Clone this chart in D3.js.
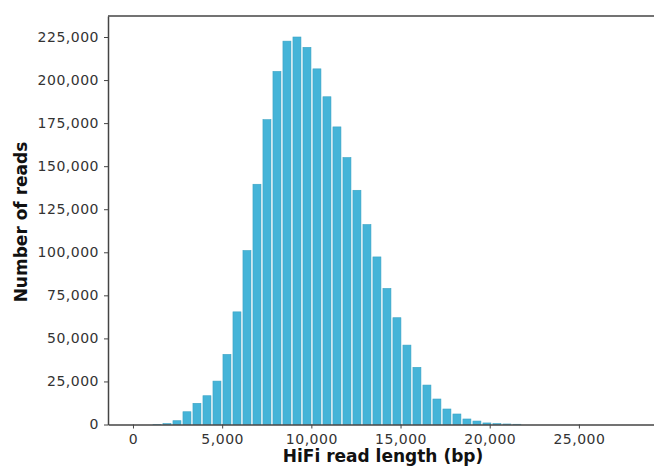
<!DOCTYPE html>
<html>
<head>
<meta charset="utf-8">
<script src="https://cdn.jsdelivr.net/npm/d3@7"></script>
<style>
  body { margin: 0; background: #fff; }
  text { font-family: "DejaVu Sans", sans-serif; }
</style>
</head>
<body>
<div id="chart"></div>
<script>
// HiFi read length histogram

// bin centers (bp)
var binCenters = [1345, 1906, 2466, 3027, 3587, 4148, 4709, 5269, 5830, 6390,
  6951, 7511, 8072, 8632, 9193, 9754, 10314, 10875, 11435, 11996,
  12556, 13117, 13677, 14238, 14798, 15359, 15919, 16480, 17040, 17601,
  18161, 18722, 19283, 19843, 20404, 20964, 21525];
var readCounts = [100, 500, 2200, 7400, 12300, 16700, 25200, 40700, 65400, 101000,
  139500, 177000, 205000, 222600, 225000, 219000, 206500, 190300, 172800, 155000,
  136000, 116100, 97300, 79000, 62000, 46100, 33200, 22900, 14800, 9000,
  6100, 3200, 2000, 900, 500, 300, 150];
var binWidth = 560;

var xTicks = [0, 5000, 10000, 15000, 20000, 25000];
var yTicks = [0, 25000, 50000, 75000, 100000, 125000, 150000, 175000, 200000, 225000];

var W = 654, H = 474;
var plotLeft = 108, plotTop = 16, plotBottom = 424.5, plotRight = 654;

var svg = d3.select("#chart").append("svg")
  .attr("width", W).attr("height", H);

var x = d3.scaleLinear().domain([-1400, 29210]).range([plotLeft, plotRight]);
var y = d3.scaleLinear().domain([0, 237200]).range([plotBottom, plotTop]);

var fmt = d3.format(",");
var barW = x(binWidth) - x(0) - 2;

svg.selectAll("rect.bar")
  .data(binCenters)
  .enter()
  .append("rect")
  .attr("class", "bar")
  .attr("x", function(d) { return x(d) - barW / 2; })
  .attr("y", function(d, i) { return y(readCounts[i]); })
  .attr("width", barW)
  .attr("height", function(d, i) { return plotBottom - y(readCounts[i]); })
  .attr("fill", "#45b4d8")
  .attr("stroke", "#3aa3c4")
  .attr("stroke-width", 0.6);

// axes
var xAxis = svg.append("g")
  .attr("transform", "translate(0," + plotBottom + ")")
  .call(d3.axisBottom(x).tickValues(xTicks).tickFormat(fmt)
    .tickSizeInner(4).tickSizeOuter(0).tickPadding(6));

var yAxis = svg.append("g")
  .attr("transform", "translate(" + plotLeft + ",0)")
  .call(d3.axisLeft(y).tickValues(yTicks).tickFormat(fmt)
    .tickSizeInner(4).tickSizeOuter(0).tickPadding(5));

[xAxis, yAxis].forEach(function(g) {
  g.select(".domain").attr("stroke", "#444").attr("stroke-width", 1.5);
  g.selectAll(".tick line").attr("stroke", "#444");
  g.selectAll(".tick text")
    .attr("fill", "#333")
    .style("font-size", "14px")
    .style("letter-spacing", "0.5px")
    .style("font-family", "DejaVu Sans, sans-serif");
});

// top border
svg.append("line")
  .attr("x1", plotLeft).attr("x2", plotRight)
  .attr("y1", plotTop).attr("y2", plotTop)
  .attr("stroke", "#444").attr("stroke-width", 1.5);

// axis titles
svg.append("text")
  .attr("x", (plotLeft + plotRight) / 2 + 2)
  .attr("y", 462)
  .attr("text-anchor", "middle")
  .style("font-size", "17px")
  .style("font-weight", "bold")
  .attr("fill", "#111")
  .text("HiFi read length (bp)");

svg.append("text")
  .attr("transform", "translate(27,222) rotate(-90)")
  .attr("text-anchor", "middle")
  .style("font-size", "17px")
  .style("font-weight", "bold")
  .attr("fill", "#111")
  .text("Number of reads");
</script>
</body>
</html>
